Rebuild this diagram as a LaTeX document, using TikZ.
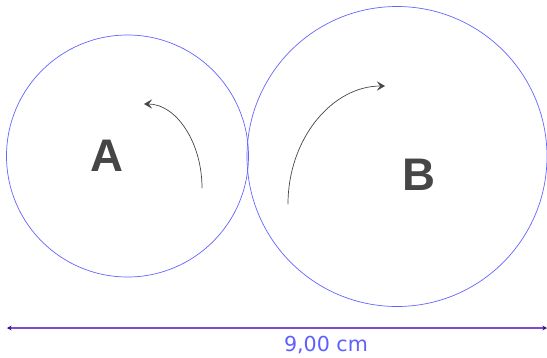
\documentclass[tikz,border=0pt]{standalone}
\usepackage{fontspec}
\setmainfont{Liberation Sans}
\newfontfamily\dimfont{DejaVu Sans}
\usetikzlibrary{arrows.meta}

\definecolor{wheelblue}{RGB}{100,100,255}
\definecolor{dimpurple}{RGB}{125,75,205}
\definecolor{dimtip}{RGB}{60,10,140}
\definecolor{dimtext}{RGB}{95,95,255}
\definecolor{spingray}{RGB}{70,70,70}

\begin{document}
\begin{tikzpicture}[
		x=0.03cm,
		y=-0.03cm,
		line cap=round,
		line join=round,
		>=Stealth
		]
		
		\useasboundingbox (0,0) rectangle (547,358);
		
		%------------------------------------------------------------------
		% Coordinates
		%------------------------------------------------------------------
		\coordinate (cA)   at (127.5, 156);
		\def\rA{121}
		
		\coordinate (cB)   at (397, 156.5);
		\def\rB{150}
		
		\coordinate (spinAin)  at (202, 188);
		\coordinate (spinAout) at (144, 104);
		
		\coordinate (spinBin)  at (288, 204);
		\coordinate (spinBout) at (385,  86);
		
		\coordinate (dimL) at (  7, 328);
		\coordinate (dimR) at (547, 328);
		
		%------------------------------------------------------------------
		% Wheels
		%------------------------------------------------------------------
		\draw[wheelblue, line width=0.6pt] (cA) circle (\rA);
		\draw[wheelblue, line width=0.6pt] (cB) circle (\rB);
		
		%------------------------------------------------------------------
		% Turning arrows
		%------------------------------------------------------------------
		\draw[spingray, line width=0.6pt, -{Stealth[length=7pt,width=8pt,inset=3pt]}]
		(spinAin) .. controls (202,142) and (176,104) .. (spinAout);
		
		\draw[spingray, line width=0.6pt, -{Stealth[length=7pt,width=8pt,inset=3pt]}]
		(spinBin) .. controls (288,139) and (332,86) .. (spinBout);
		
		%------------------------------------------------------------------
		% Labels
		%------------------------------------------------------------------
		\node[spingray, font=\fontsize{39}{41}\selectfont\bfseries] (labA) at (106.5, 156) {A};
		\node[spingray, font=\fontsize{39}{41}\selectfont\bfseries] (labB) at (419, 175) {B};
		
		%------------------------------------------------------------------
		% Dimension line
		%------------------------------------------------------------------
		\draw[dimpurple, line width=1.1pt,
		{Stealth[length=4pt,width=4pt,dimtip]}-{Stealth[length=4pt,width=4pt,dimtip]}]
		(dimL) -- (dimR);
		
		\node[dimtext, font=\dimfont\fontsize{17.6}{19}\selectfont, anchor=base, inner sep=0pt]
		(dimLabel) at (326, 351) {9,00 cm};
		
	\end{tikzpicture}
\end{document}
